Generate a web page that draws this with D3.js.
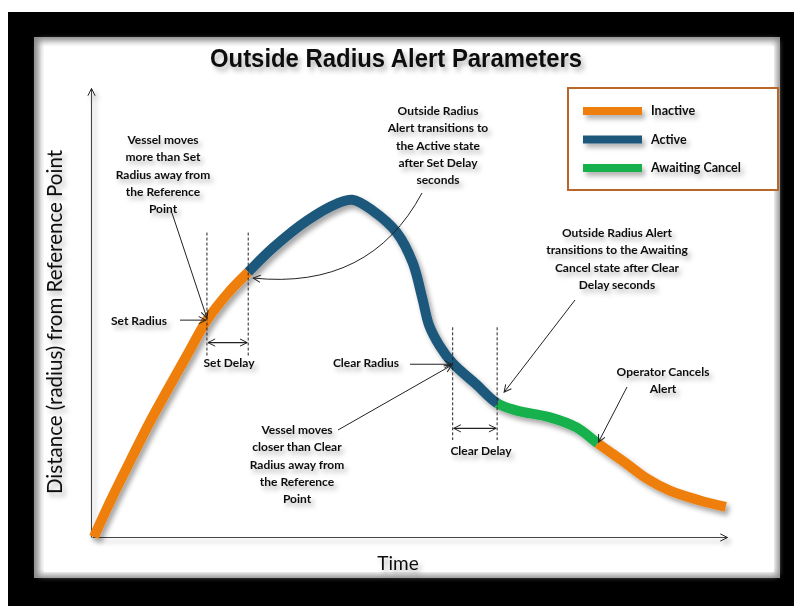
<!DOCTYPE html>
<html>
<head>
<meta charset="utf-8">
<script src="https://d3js.org/d3.v7.min.js"></script>
<style>
  body { margin: 0; background: #fff; }
  text { font-family: Lato, "Open Sans", sans-serif; fill: #111; }
</style>
</head>
<body>
<script>
var width = 794, height = 606;
var x_left = 92, x_right = 727, y_bottom = 537, y_top = 88;

// curve (time / distance, both 0..100)
var curveTime     = [0.3, 2.8, 6.0, 9.1, 12.3, 15.4, 18.1, 21.4, 24.6, 28.5, 33.8, 38.5, 41.0, 44.2, 48.0, 50.5, 52.0, 53.1, 54.7, 56.8, 60.5, 63.8, 66.8, 72.0, 76.3, 79.6, 84.1, 87.3, 90.9, 95.6, 99.8];
var curveDistance = [0.0, 7.7, 16.9, 25.6, 33.8, 41.6, 48.3, 54.3, 59.0, 64.4, 70.4, 74.2, 75.1, 72.7, 67.8, 61.1, 53.3, 47.1, 42.7, 38.7, 34.0, 29.8, 28.2, 26.7, 24.4, 20.9, 16.4, 13.1, 10.4, 8.2, 6.7];

// state segments along the time axis
var segStates = ['Inactive', 'Active', 'Awaiting Cancel', 'Inactive'];
var segBounds = [0.3, 24.6, 63.8, 79.6, 99.8];

var stateNames  = ['Inactive', 'Active', 'Awaiting Cancel'];
var stateColors = {'Inactive': '#EF7F0C', 'Active': '#1F587B', 'Awaiting Cancel': '#16B04D'};

// event times
var setRadiusT = 18.1, setDelayT = 24.6, clearRadiusT = 56.8, clearDelayT = 63.8, cancelT = 79.6;
// dashed guide extents (distance units) and the double arrow levels
var setGuide = [40.4, 67.8], clearGuide = [21.6, 46.7];
var setDelayLevel = 43.3, clearDelayLevel = 24.2;

var xScale = d3.scaleLinear().domain([0, 100]).range([x_left, x_right]);
var yScale = d3.scaleLinear().domain([0, 100]).range([y_bottom, y_top]);

function plot_it() {
	var svg = d3.select('body').append('svg').attr('width', width).attr('height', height);
	var defs = svg.append('defs');

	// shadows
	var f = defs.append('filter').attr('id', 'shadow').attr('filterUnits', 'userSpaceOnUse')
		.attr('x', 0).attr('y', 0).attr('width', width).attr('height', height);
	f.append('feDropShadow').attr('dx', 3).attr('dy', 4).attr('stdDeviation', 2.5)
		.attr('flood-color', '#000').attr('flood-opacity', 0.35);
	var ft = defs.append('filter').attr('id', 'tshadow').attr('filterUnits', 'userSpaceOnUse')
		.attr('x', 0).attr('y', 0).attr('width', width).attr('height', height);
	ft.append('feDropShadow').attr('dx', 3).attr('dy', 4).attr('stdDeviation', 2.5)
		.attr('flood-color', '#000').attr('flood-opacity', 0.3);
	defs.append('filter').attr('id', 'soft').append('feGaussianBlur').attr('stdDeviation', 3);

	// arrow heads
	defs.append('marker').attr('id', 'head').attr('viewBox', '0 0 10 10')
		.attr('refX', 9).attr('refY', 5).attr('markerWidth', 9).attr('markerHeight', 9)
		.attr('markerUnits', 'userSpaceOnUse').attr('orient', 'auto-start-reverse')
		.append('path').attr('d', 'M1,1 L9,5 L1,9').attr('fill', 'none').attr('stroke', '#222').attr('stroke-width', 1.1);

	// frame + panel
	svg.append('rect').attr('x', 8).attr('y', 12).attr('width', width - 8).attr('height', height - 12).attr('fill', '#000');
	svg.append('rect').attr('x', 34).attr('y', 37).attr('width', 746).attr('height', 541).attr('fill', '#8a8a8a');
	svg.append('rect').attr('x', 39).attr('y', 41).attr('width', 738).attr('height', 534).attr('fill', '#fff').attr('filter', 'url(#soft)');
	svg.append('rect').attr('x', 44).attr('y', 46).attr('width', 730).attr('height', 526).attr('fill', '#fff');

	// title
	svg.append('text').attr('x', 396).attr('y', 67).attr('text-anchor', 'middle')
		.attr('filter', 'url(#tshadow)')
		.style('font-family', '"Liberation Sans Narrow", "Arial Narrow", "Liberation Sans", Arial, sans-serif')
		.style('font-weight', 'bold').style('font-size', '25px')
		.attr('textLength', 372).attr('lengthAdjust', 'spacingAndGlyphs')
		.text('Outside Radius Alert Parameters');

	// axes (no ticks, just arrowed lines)
	var xAxis = svg.append('g').attr('filter', 'url(#shadow)').append('g')
		.attr('transform', 'translate(0,' + y_bottom + ')')
		.call(d3.axisBottom(xScale).ticks(0).tickSizeOuter(0));
	var yAxis = svg.append('g').attr('filter', 'url(#shadow)').append('g')
		.attr('transform', 'translate(' + (x_left - 1) + ',0)')
		.call(d3.axisLeft(yScale).ticks(0).tickSizeOuter(0));
	[xAxis, yAxis].forEach(function(a) {
		a.select('.domain').attr('stroke', '#444').attr('stroke-width', 1.1).attr('marker-end', 'url(#head)');
	});

	var labels = svg.append('g').attr('filter', 'url(#tshadow)');
	labels.append('text').attr('x', 398).attr('y', 570).attr('text-anchor', 'middle')
		.style('font-size', '19px').text('Time');
	labels.append('text').attr('transform', 'translate(62,322) rotate(-90)').attr('text-anchor', 'middle')
		.style('font-size', '20.5px').text('Distance (radius) from Reference Point');

	// curve
	var pts = curveTime.map(function(t, i) { return [t, curveDistance[i]]; });
	var line = d3.line().x(d => xScale(d[0])).y(d => yScale(d[1])).curve(d3.curveCatmullRom.alpha(0.5));
	var cg = svg.append('g').attr('filter', 'url(#shadow)');
	var base = cg.append('path').attr('d', line(pts)).attr('fill', 'none').attr('stroke', 'none');
	var node = base.node();
	var total = node.getTotalLength();

	function atX(px) {
		var lo = 0, hi = total;
		for (var k = 0; k < 40; k++) {
			var mid = (lo + hi) / 2;
			if (node.getPointAtLength(mid).x < px) lo = mid; else hi = mid;
		}
		var p = node.getPointAtLength(lo);
		return {len: lo, x: p.x, y: p.y};
	}

	segStates.forEach(function(s, i) {
		var a = atX(xScale(segBounds[i])).len, b = atX(xScale(segBounds[i + 1])).len;
		if (i == 0) a = 0;
		if (i == segStates.length - 1) b = total;
		cg.append('path').attr('d', line(pts)).attr('fill', 'none')
			.attr('stroke', stateColors[s]).attr('stroke-width', 10).attr('stroke-linecap', 'butt')
			.attr('stroke-dasharray', '0,' + a + ',' + (b - a) + ',' + (total + 10));
	});

	var pSet = atX(xScale(setRadiusT)), pDelay = atX(xScale(setDelayT));
	var pClear = atX(xScale(clearRadiusT)), pClearD = atX(xScale(clearDelayT));
	var pCancel = atX(xScale(cancelT));

	// dashed guides
	var ann = svg.append('g');
	[[setRadiusT, setGuide], [setDelayT, setGuide], [clearRadiusT, clearGuide], [clearDelayT, clearGuide]].forEach(function(g) {
		ann.append('line').attr('x1', xScale(g[0])).attr('x2', xScale(g[0]))
			.attr('y1', yScale(g[1][1])).attr('y2', yScale(g[1][0]))
			.attr('stroke', '#222').attr('stroke-width', 1).attr('stroke-dasharray', '3,2');
	});
	// delay double arrows
	[[setRadiusT, setDelayT, setDelayLevel], [clearRadiusT, clearDelayT, clearDelayLevel]].forEach(function(g) {
		ann.append('line').attr('x1', xScale(g[0]) + 1).attr('x2', xScale(g[1]) - 1)
			.attr('y1', yScale(g[2])).attr('y2', yScale(g[2]))
			.attr('stroke', '#222').attr('stroke-width', 1.1)
			.attr('marker-start', 'url(#head)').attr('marker-end', 'url(#head)');
	});

	// pointer arrows
	var arrows = [
		'M180,' + pSet.y + ' L' + (pSet.x - 1) + ',' + pSet.y,
		'M172,213 L' + (pSet.x) + ',' + (pSet.y - 2),
		'M422,193 Q370,290 ' + (pDelay.x + 5) + ',' + (pDelay.y + 6),
		'M410,' + (pClear.y + 1) + ' L' + (pClear.x - 1) + ',' + (pClear.y + 1),
		'M338,430 L' + (pClear.x - 1) + ',' + (pClear.y + 2),
		'M575,300 L' + (pClearD.x + 7) + ',' + (pClearD.y - 11),
		'M627,387 L' + (pCancel.x + 1) + ',' + (pCancel.y - 1)
	];
	arrows.forEach(function(d) {
		ann.append('path').attr('d', d).attr('fill', 'none').attr('stroke', '#222').attr('stroke-width', 1)
			.attr('marker-end', 'url(#head)');
	});

	// text notes: [center x, first line center y, lines]
	var notes = [
		[163, 140, ['Vessel moves', 'more than Set', 'Radius away from', 'the Reference', 'Point']],
		[139, 321, ['Set Radius']],
		[229, 363, ['Set Delay']],
		[438, 111, ['Outside Radius', 'Alert transitions to', 'the Active state', 'after Set Delay', 'seconds']],
		[366, 363, ['Clear Radius']],
		[481, 451, ['Clear Delay']],
		[297, 430, ['Vessel moves', 'closer than Clear', 'Radius away from', 'the Reference', 'Point']],
		[617, 233, ['Outside Radius Alert', 'transitions to the Awaiting', 'Cancel state after Clear', 'Delay seconds']],
		[663, 372, ['Operator Cancels', 'Alert']]
	];
	var tg = svg.append('g').attr('filter', 'url(#tshadow)');
	notes.forEach(function(n) {
		var t = tg.append('text').attr('text-anchor', 'middle')
			.style('font-size', '12px').style('font-weight', 'bold');
		n[2].forEach(function(s, i) {
			t.append('tspan').attr('x', n[0]).attr('y', n[1] + i * 17.2).attr('dy', '0.35em').text(s);
		});
	});

	// legend
	var lg = svg.append('g');
	lg.append('rect').attr('x', 568).attr('y', 88).attr('width', 210).attr('height', 102)
		.attr('fill', '#fff').attr('stroke', '#B8662A').attr('stroke-width', 2);
	var lgItems = lg.append('g').attr('filter', 'url(#tshadow)');
	stateNames.forEach(function(s, i) {
		var yy = 111 + i * 28.5;
		lgItems.append('line').attr('x1', 583).attr('x2', 642).attr('y1', yy).attr('y2', yy)
			.attr('stroke', stateColors[s]).attr('stroke-width', 8);
		lgItems.append('text').attr('x', 651).attr('y', yy).attr('dy', '0.35em')
			.style('font-size', '12.5px').style('font-weight', 'bold').text(s);
	});
}

plot_it();
</script>
</body>
</html>
